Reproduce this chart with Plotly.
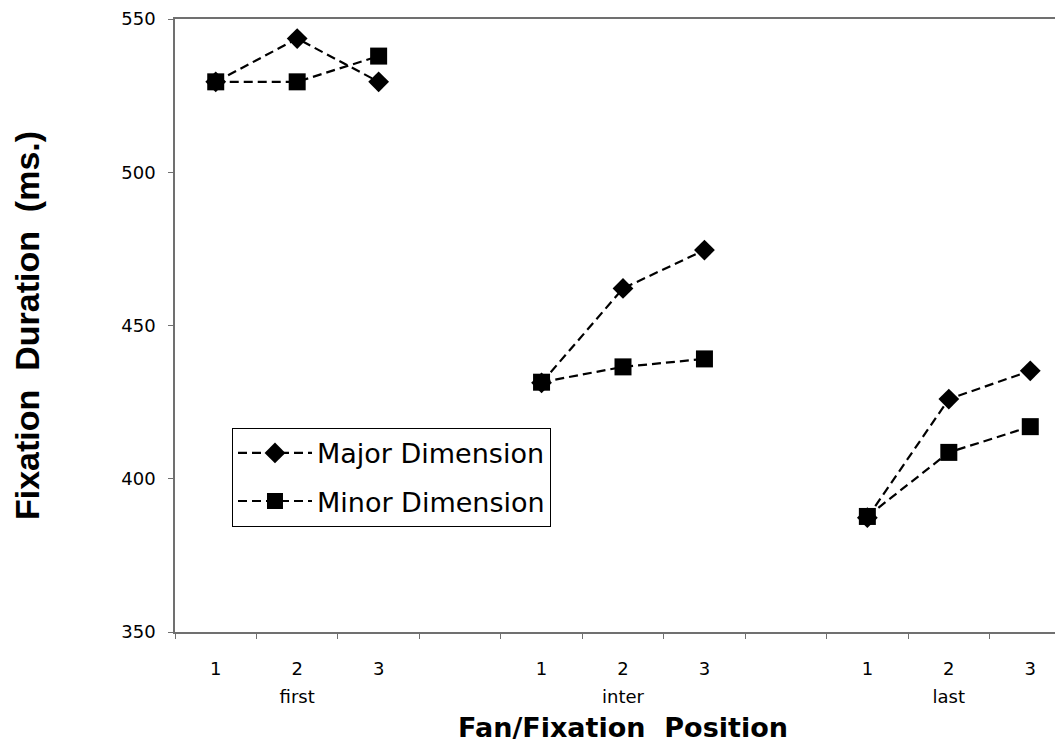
import plotly.graph_objects as go

# ---- data ----
groups = ["first", "inter", "last"]
positions = ["1", "2", "3"]
major = {
    "first": [529.5, 543.6, 529.5],
    "inter": [431.3, 462.1, 474.6],
    "last": [387.3, 426.0, 435.2],
}
minor = {
    "first": [529.5, 529.5, 537.9],
    "inter": [431.5, 436.5, 439.1],
    "last": [387.7, 408.6, 417.0],
}
series_names = ["Major Dimension", "Minor Dimension"]
y_ticks = [350, 400, 450, 500, 550]

SLOTS_PER_GROUP = len(positions) + 1  # one empty slot between groups


def build_xy(values):
    xs, ys = [], []
    for gi, g in enumerate(groups):
        for pi, v in enumerate(values[g]):
            xs.append(gi * SLOTS_PER_GROUP + pi)
            ys.append(v)
        xs.append(None)
        ys.append(None)
    return xs, ys


tick_x, tick_text = [], []
for gi, g in enumerate(groups):
    for pi, p in enumerate(positions):
        tick_x.append(gi * SLOTS_PER_GROUP + pi)
        tick_text.append(p)
group_x = [gi * SLOTS_PER_GROUP + 1 for gi in range(len(groups))]

fig = go.Figure()
line_style = dict(color="black", width=2.2, dash="9px,5px")
mx, my = build_xy(major)
fig.add_trace(go.Scatter(
    x=mx, y=my, mode="lines+markers", name=series_names[0],
    line=line_style, legendgroup="a",
    marker=dict(symbol="diamond", size=16, color="black"),
))
nx, ny = build_xy(minor)
fig.add_trace(go.Scatter(
    x=nx, y=ny, mode="lines+markers", name=series_names[1],
    line=line_style, legendgroup="b", xaxis="x2",
    marker=dict(symbol="square", size=17, color="black"),
))

axis_col = "#707070"
x_range = [-0.5, 10.5]
fig.update_layout(
    width=1063, height=749,
    margin=dict(l=167, r=0, t=9, b=125),
    paper_bgcolor="white", plot_bgcolor="white",
    font=dict(family="DejaVu Sans", color="black"),
    xaxis=dict(
        range=x_range, tickmode="array", tickvals=tick_x, ticktext=tick_text,
        ticks="", showgrid=False, zeroline=False,
        showline=True, linecolor=axis_col, linewidth=1.5, mirror=True,
        tickfont=dict(family="DejaVu Sans", size=18, color="black"),
        ticklabelstandoff=20, ticklabeloverflow="allow",
        minor=dict(ticks="outside", ticklen=5, tickcolor=axis_col, tickwidth=1,
                   tickmode="linear", tick0=-0.5, dtick=1, showgrid=False),
    ),
    xaxis2=dict(
        range=x_range, overlaying="x", anchor="y", side="bottom",
        tickmode="array", tickvals=group_x, ticktext=groups,
        ticks="", showgrid=False, zeroline=False, showline=False,
        tickfont=dict(family="DejaVu Sans", size=18, color="black"),
        ticklabelstandoff=52, ticklabeloverflow="allow",
        title=dict(text="Fan/Fixation\u00a0 Position", standoff=12,
                   font=dict(family="DejaVu Sans", size=27, weight="bold", color="black")),
    ),
    yaxis=dict(
        range=[350, 550], tickmode="array", tickvals=y_ticks,
        ticks="outside", ticklen=5, tickcolor=axis_col,
        showline=True, linecolor=axis_col, linewidth=1.5,
        showgrid=False, zeroline=False,
        tickfont=dict(family="DejaVu Sans", size=18, color="black"),
        ticklabelstandoff=9, ticklabeloverflow="allow",
        title=dict(text="Fixation\u00a0 Duration\u00a0 (ms.)", standoff=82,
                   font=dict(family="Liberation Sans", size=34, weight="bold", color="black")),
    ),
    legend=dict(
        x=0.0636, y=0.333, xanchor="left", yanchor="top",
        bgcolor="white", bordercolor="black", borderwidth=1,
        font=dict(family="DejaVu Sans", size=27, color="black"),
        tracegroupgap=10, itemwidth=74,
    ),
    showlegend=True,
)

fig.write_html("out.html")
